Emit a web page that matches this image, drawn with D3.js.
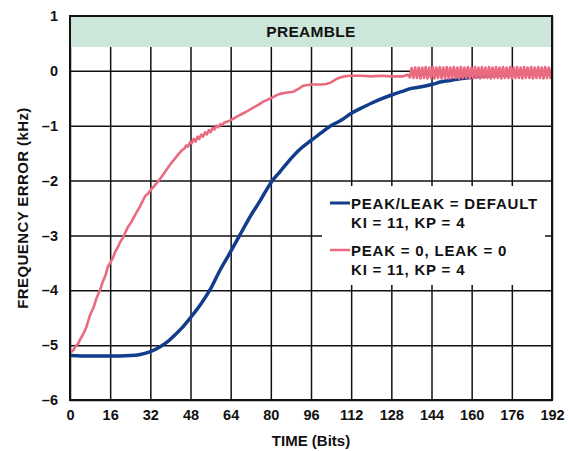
<!DOCTYPE html>
<html><head><meta charset="utf-8">
<script src="https://cdn.jsdelivr.net/npm/d3@7"></script>
<style>body{margin:0;background:#fff}text{font-family:"Liberation Sans",Arial,sans-serif;font-weight:bold;fill:#111}</style>
</head><body><svg id="c" width="569" height="451"></svg>
<script>
const xTicks = [0,16,32,48,64,80,96,112,128,144,160,176,192];
const yTicks = [1,0,-1,-2,-3,-4,-5,-6];
const preamble = {label:"PREAMBLE", y0:0.435, y1:1};
const seriesNames = ["PEAK/LEAK = DEFAULT","KI = 11, KP = 4","PEAK = 0, LEAK = 0","KI = 11, KP = 4"];
// blue: PEAK/LEAK = DEFAULT
const blueData = [[0,-5.19],[8,-5.2],[16,-5.2],[24,-5.19],[28,-5.17],[32,-5.12],[35.9,-5.03],[38.5,-4.95],[41.2,-4.84],[44.5,-4.69],[47.8,-4.51],[52,-4.26],[55.8,-3.99],[59.8,-3.63],[63.7,-3.32],[67.7,-2.99],[71.7,-2.66],[75.7,-2.37],[80.3,-2.02],[83.6,-1.84],[86.3,-1.69],[89,-1.55],[91.6,-1.43],[96.3,-1.26],[100,-1.13],[103.6,-1.01],[108,-0.9],[112.2,-0.77],[116,-0.68],[120,-0.59],[124,-0.51],[128.1,-0.44],[132,-0.38],[136,-0.32],[140,-0.29],[144,-0.25],[148,-0.2],[152,-0.17],[156,-0.14],[160,-0.115],[165,-0.09],[170,-0.08],[175.3,-0.07],[180,-0.06],[186,-0.05],[192,-0.05]];
// pink: PEAK = 0, LEAK = 0
const pinkData = [[0,-5.15],[1.5,-5.08],[2.5,-5.0],[3.2,-4.98],[4,-4.9],[5,-4.82],[5.8,-4.75],[6.6,-4.66],[8,-4.45],[9.5,-4.3],[10.5,-4.15],[12,-3.99],[13,-3.85],[14.2,-3.72],[15,-3.58],[16,-3.5],[17,-3.42],[18,-3.3],[19,-3.22],[20,-3.12],[21,-3.05],[21.9,-2.96],[23,-2.85],[24.5,-2.75],[26,-2.62],[27.9,-2.47],[29.2,-2.35],[30,-2.28],[31,-2.24],[32,-2.18],[33,-2.13],[34.5,-2.05],[36.5,-1.93],[38.5,-1.8],[40,-1.7],[41.8,-1.6],[43,-1.53],[44.5,-1.45],[45.5,-1.42],[46.3,-1.36],[47,-1.38],[47.8,-1.3],[48.5,-1.32],[49.3,-1.24],[50,-1.29],[50.8,-1.2],[51.5,-1.24],[52.3,-1.16],[53,-1.2],[53.8,-1.12],[54.5,-1.16],[55.3,-1.08],[56,-1.12],[56.8,-1.04],[57.5,-1.07],[58.3,-1.0],[59,-1.03],[59.8,-0.97],[60.5,-0.99],[61.5,-0.94],[62.5,-0.93],[64.4,-0.89],[67,-0.82],[70,-0.75],[73,-0.67],[75,-0.62],[77,-0.56],[80,-0.5],[82,-0.45],[83.6,-0.42],[86,-0.4],[89,-0.38],[91,-0.33],[92.9,-0.27],[96,-0.25],[100,-0.25],[102.2,-0.24],[104,-0.21],[106,-0.15],[107.6,-0.12],[109.5,-0.1],[111.5,-0.09],[116,-0.09],[120,-0.1],[124,-0.09],[128,-0.1],[132.7,-0.1],[134.5,-0.07],
[135.4,-0.12],[136.1,0.05],[136.8,-0.13],[137.5,0.06],[138.2,-0.13],[138.9,0.06],[139.6,-0.14],[140.3,0.06],[141.0,-0.13],[141.7,0.07],[142.4,-0.14],[143.1,0.06],[143.8,-0.13],[144.5,0.07],[145.2,-0.14],[145.9,0.06],[146.6,-0.13],[147.3,0.07],[148.0,-0.14],[148.7,0.06],[149.4,-0.13],[150.1,0.07],[150.8,-0.14],[151.5,0.06],[152.2,-0.13],[152.9,0.07],[153.6,-0.13],[154.3,0.06],[155.0,-0.14],[155.7,0.07],[156.4,-0.13],[157.1,0.06],[157.8,-0.13],[158.5,0.07],[159.2,-0.14],[159.9,0.06],[160.6,-0.13],[161.3,0.07],[162.0,-0.13],[162.7,0.06],[163.4,-0.14],[164.1,0.07],[164.8,-0.13],[165.5,0.06],[166.2,-0.13],[166.9,0.07],[167.6,-0.14],[168.3,0.06],[169.0,-0.13],[169.7,0.07],[170.4,-0.13],[171.1,0.06],[171.8,-0.14],[172.5,0.07],[173.2,-0.13],[173.9,0.06],[174.6,-0.13],[175.3,0.07],[176.0,-0.14],[176.7,0.06],[177.4,-0.13],[178.1,0.07],[178.8,-0.13],[179.5,0.06],[180.2,-0.14],[180.9,0.07],[181.6,-0.13],[182.3,0.06],[183.0,-0.13],[183.7,0.07],[184.4,-0.14],[185.1,0.06],[185.8,-0.13],[186.5,0.07],[187.2,-0.13],[187.9,0.06],[188.6,-0.14],[189.3,0.07],[190.0,-0.13],[190.7,0.06],[191.4,-0.13],[192.1,0.07],[192.6,-0.1]];

const BLUE="#123c8c", PINK="#ea6a80";
const svg = d3.select("#c");
const L=70,R=552,T=16,B=400;
const x = d3.scaleLinear().domain([0,192]).range([L,R]);
const y = d3.scaleLinear().domain([-6,1]).range([B,T]);
const fmt = d => d<0 ? "\u2013"+Math.abs(d) : String(d);
const styleText = g=>g.selectAll("text").attr("font-size",14.5).attr("fill","#111").attr("font-family","Liberation Sans, Arial").attr("font-weight","bold");

// grid
svg.append("g").attr("transform",`translate(0,${B})`)
  .call(d3.axisBottom(x).tickValues(xTicks).tickSize(-(B-T)).tickFormat(fmt).tickPadding(10))
  .call(g=>g.select(".domain").remove())
  .call(g=>g.selectAll("line").attr("stroke","#111").attr("stroke-width",1.5))
  .call(styleText);
svg.append("g").attr("transform",`translate(${L},0)`)
  .call(d3.axisLeft(y).tickValues(yTicks).tickSize(-(R-L)).tickFormat(fmt).tickPadding(12))
  .call(g=>g.select(".domain").remove())
  .call(g=>g.selectAll("line").attr("stroke","#111").attr("stroke-width",1.5))
  .call(styleText);

// preamble band
svg.append("rect").attr("x",x(0)).attr("width",x(192)-x(0)).attr("y",y(preamble.y1)).attr("height",y(preamble.y0)-y(preamble.y1)).attr("fill","#cce6da");
svg.append("text").attr("x",(L+R)/2).attr("y",(y(preamble.y1)+y(preamble.y0))/2+5.5).attr("text-anchor","middle").attr("font-size",15.5).attr("letter-spacing",0.3).text(preamble.label);

// legend box (white)
svg.append("rect").attr("x",322).attr("y",186).attr("width",223).attr("height",99).attr("fill","#fff");

// lines
svg.append("clipPath").attr("id","clip").append("rect").attr("x",L).attr("y",T).attr("width",R-L+1).attr("height",B-T);
const lineB = d3.line().x(d=>x(d[0])).y(d=>y(d[1])).curve(d3.curveMonotoneX);
const line = d3.line().x(d=>x(d[0])).y(d=>y(d[1]));
const lg = svg.append("g").attr("clip-path","url(#clip)");
lg.append("path").datum(blueData).attr("d",lineB).attr("fill","none").attr("stroke",BLUE).attr("stroke-width",3.5).attr("stroke-linejoin","round");
lg.append("path").datum(pinkData).attr("d",line).attr("fill","none").attr("stroke",PINK).attr("stroke-width",2.6).attr("stroke-linejoin","round");

// frame
svg.append("rect").attr("x",L).attr("y",T).attr("width",R-L).attr("height",B-T).attr("fill","none").attr("stroke","#111").attr("stroke-width",2);

// legend
svg.append("line").attr("x1",330).attr("x2",350).attr("y1",203).attr("y2",203).attr("stroke",BLUE).attr("stroke-width",3);
svg.append("line").attr("x1",330).attr("x2",350).attr("y1",250).attr("y2",250).attr("stroke",PINK).attr("stroke-width",2.5);
const lgY=[209,228,256,275];
seriesNames.forEach((s,i)=>svg.append("text").attr("x",351).attr("y",lgY[i]).attr("font-size",15).attr("letter-spacing",0.8).text(s));

// axis titles
svg.append("text").attr("x",(L+R)/2).attr("y",446).attr("text-anchor","middle").attr("font-size",15).text("TIME (Bits)");
svg.append("text").attr("transform",`translate(28,${(T+B)/2}) rotate(-90)`).attr("text-anchor","middle").attr("font-size",15).attr("letter-spacing",0.4).text("FREQUENCY ERROR (kHz)");
</script></body></html>
